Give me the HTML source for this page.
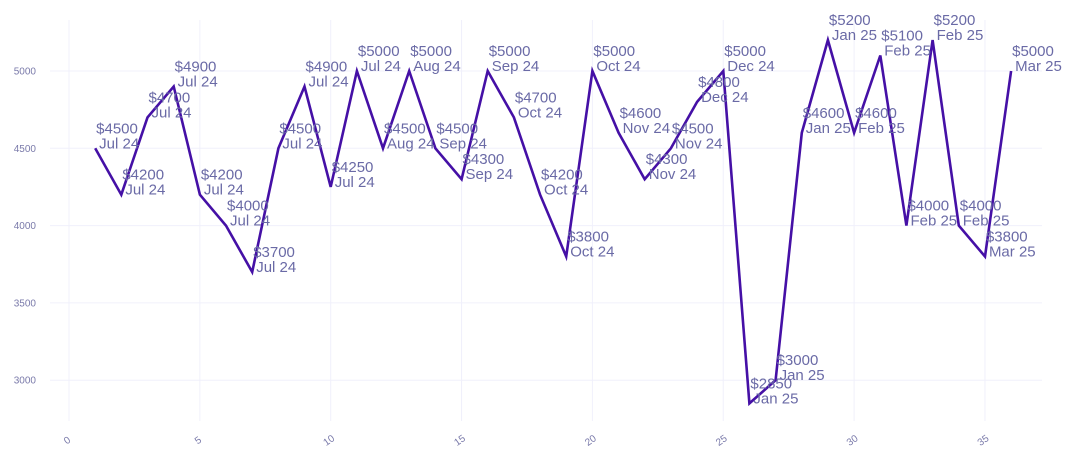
<!DOCTYPE html>
<html><head><meta charset="utf-8"><style>
body{margin:0;background:#fff;}
svg{display:block;font-family:"Liberation Sans",sans-serif;}
</style></head><body>
<svg id="chart" width="1075" height="462" viewBox="0 0 1075 462">
<g id="grid"></g>
<g id="axes"></g>
<path id="line" fill="none" stroke="#4510a6" stroke-width="2.6" stroke-linejoin="miter"></path>
<g id="labels"></g>
</svg>
<script>
const xs=[1,2,3,4,5,6,7,8,9,10,11,12,13,14,15,16,17,18,19,20,21,22,23,24,25,26,27,28,29,30,31,32,33,34,35,36];
const prices=[4500,4200,4700,4900,4200,4000,3700,4500,4900,4250,5000,4500,5000,4500,4300,5000,4700,4200,3800,5000,4600,4300,4500,4800,5000,2850,3000,4600,5200,4600,5100,4000,5200,4000,3800,5000];
const months=["Jul 24","Jul 24","Jul 24","Jul 24","Jul 24","Jul 24","Jul 24","Jul 24","Jul 24","Jul 24","Jul 24","Aug 24","Aug 24","Sep 24","Sep 24","Sep 24","Oct 24","Oct 24","Oct 24","Oct 24","Nov 24","Nov 24","Nov 24","Dec 24","Dec 24","Jan 25","Jan 25","Jan 25","Jan 25","Feb 25","Feb 25","Feb 25","Feb 25","Feb 25","Mar 25","Mar 25"];
const xTicks=[0,5,10,15,20,25,30,35];
const yTicks=[3000,3500,4000,4500,5000];
const NS="http://www.w3.org/2000/svg";
const X=v=>69+v*26.17;
const Y=v=>71+(5000-v)*0.1546;
function mk(tag,attrs,parent){const e=document.createElementNS(NS,tag);for(const k in attrs)e.setAttribute(k,attrs[k]);parent.appendChild(e);return e;}
const grid=document.getElementById('grid'),axes=document.getElementById('axes'),labels=document.getElementById('labels');
yTicks.forEach(t=>{
  const l=mk('line',{x1:50,x2:1042,y1:Y(t),y2:Y(t),stroke:'#f0f0fb','stroke-width':1},grid);
  
  
  const tx=mk('text',{x:36,y:Y(t)+3.5,'text-anchor':'end','font-size':10,fill:'#7a7aaa'},axes);
  tx.textContent=t;
  
  
});
xTicks.forEach(t=>{
  const l=mk('line',{x1:X(t),x2:X(t),y1:20,y2:421,stroke:'#f0f0fb','stroke-width':1},grid);
  
  
  const tx=mk('text',{x:0,y:0,'text-anchor':'middle','font-size':10,fill:'#7a7aaa',transform:`translate(${X(t)},${443}) rotate(-35)`},axes);
  tx.textContent=t;
  
  
});
document.getElementById('line').setAttribute('d',xs.map((x,i)=>(i?'L':'M')+X(x).toFixed(1)+','+Y(prices[i]).toFixed(1)).join(''));
xs.forEach((x,i)=>{
  const px=X(x),py=Y(prices[i]);
  const t=mk('text',{'font-size':15,fill:'#6a6aa6'},labels);
  
  
  const a=mk('tspan',{x:px+1,y:py-15},t);a.textContent='$'+prices[i];
  const b=mk('tspan',{x:px+4,y:py},t);b.textContent=months[i];
});
</script>
</body></html>
